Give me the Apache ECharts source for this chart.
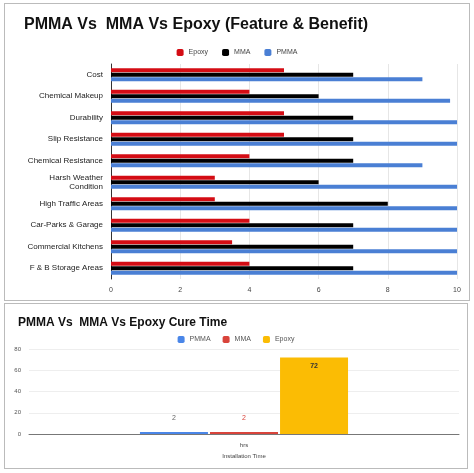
<!DOCTYPE html>
<html><head><meta charset="utf-8">
<script src="https://cdn.jsdelivr.net/npm/echarts@6/dist/echarts.min.js"></script>
<style>
body{margin:0;background:#fff;width:474px;height:473px;position:relative;font-family:Arial,"Liberation Sans",sans-serif}
#c1{position:absolute;left:4px;top:3px;width:464px;height:296px;border:1px solid #bbb}
#c2{position:absolute;left:4px;top:303px;width:462px;height:164px;border:1px solid #bbb}
</style></head><body>
<div id="c1"></div><div id="c2"></div>
<script>
const categories=["Cost","Chemical Makeup","Durability","Slip Resistance","Chemical Resistance","Harsh Weather\nCondition","High Traffic Areas","Car-Parks & Garage","Commercial Kitchens","F & B Storage Areas"];
const epoxy=[5,4,5,5,4,3,3,4,3.5,4];
const mma=[7,6,7,7,7,6,8,7,7,7];
const pmma=[9,9.8,10,10,9,10,10,10,10,10];
const cureCats=["hrs"];
const curePMMA=[2], cureMMA=[2], cureEpoxy=[72];
const F='Arial,"Liberation Sans",sans-serif';
const c1=echarts.init(document.getElementById('c1'));
c1.setOption({
 animation:false,
 title:{text:"PMMA Vs  MMA Vs Epoxy (Feature & Benefit)",left:14,top:8,textStyle:{fontSize:16,fontWeight:'bold',color:'#111',fontFamily:F}},
 legend:{top:40,left:'center',itemWidth:7,itemHeight:7,itemGap:14,textStyle:{fontSize:7,color:'#444',fontFamily:F},data:['Epoxy','MMA','PMMA']},
 grid:{left:106,right:12,top:60,bottom:21},
 xAxis:{type:'value',min:0,max:10,interval:2,axisLabel:{fontSize:7,color:'#444'},splitLine:{lineStyle:{color:'#e6e6e6'}}},
 yAxis:{type:'category',data:categories,inverse:true,axisTick:{show:false},axisLine:{lineStyle:{color:'#333'}},axisLabel:{fontSize:8,color:'#222',fontFamily:F,lineHeight:9}},
 series:[
  {name:'Epoxy',type:'bar',data:epoxy,itemStyle:{color:'#d40c14'},barWidth:4,barGap:'15%'},
  {name:'MMA',type:'bar',data:mma,itemStyle:{color:'#000'},barWidth:4,barGap:'15%'},
  {name:'PMMA',type:'bar',data:pmma,itemStyle:{color:'#4a7fd4'},barWidth:4,barGap:'15%'}
 ]
});
const c2=echarts.init(document.getElementById('c2'));
c2.setOption({
 animation:false,
 title:{text:"PMMA Vs  MMA Vs Epoxy Cure Time",left:8,top:8,textStyle:{fontSize:12,fontWeight:'bold',color:'#111',fontFamily:F}},
 legend:{top:27,left:'center',itemWidth:7,itemHeight:7,itemGap:12,textStyle:{fontSize:7,color:'#555',fontFamily:F}},
 grid:{left:24,right:8,top:45,bottom:34},
 xAxis:{type:'category',data:cureCats,name:'Installation Time',nameLocation:'middle',nameGap:18,nameTextStyle:{fontSize:6,color:'#444'},axisTick:{show:false},axisLine:{lineStyle:{color:'#777'}},axisLabel:{fontSize:6,color:'#444'}},
 yAxis:{type:'value',min:0,max:80,interval:20,axisLabel:{fontSize:6,color:'#555'},splitLine:{lineStyle:{color:'#eee'}}},
 series:[
  {name:'PMMA',type:'bar',data:curePMMA,barWidth:68,barGap:'3%',itemStyle:{color:'#4a86e8'},label:{show:true,position:'top',distance:10,fontSize:7,color:'#666'}},
  {name:'MMA',type:'bar',data:cureMMA,barWidth:68,barGap:'3%',itemStyle:{color:'#d9443b'},label:{show:true,position:'top',distance:10,fontSize:7,color:'#d9443b'}},
  {name:'Epoxy',type:'bar',data:cureEpoxy,barWidth:68,barGap:'3%',itemStyle:{color:'#fbbc04'},label:{show:true,position:'insideTop',fontSize:7,color:'#333',fontWeight:'bold'}}
 ]
});
</script></body></html>
